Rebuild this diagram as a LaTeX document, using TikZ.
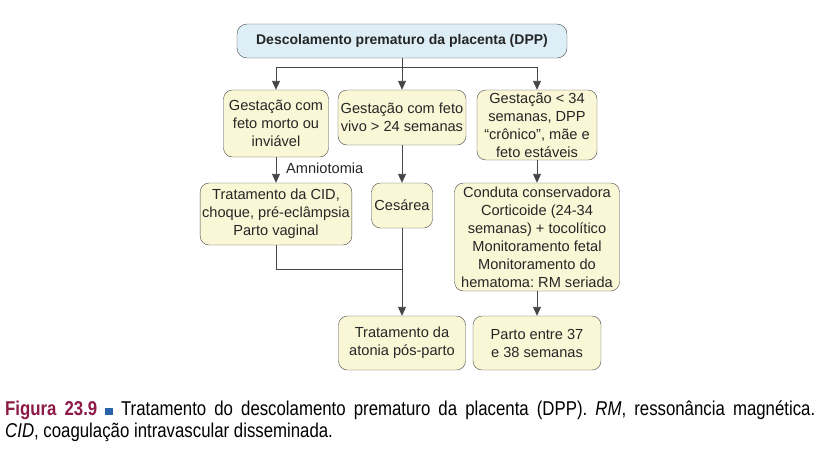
\documentclass[tikz,border=0pt]{standalone}
\usepackage{fontspec}
\setmainfont{Liberation Sans}
\newfontfamily\capfont[FakeStretch=0.84]{Liberation Sans}
\usetikzlibrary{arrows.meta}
\frenchspacing

\definecolor{boxfill}{RGB}{250,247,214}
\definecolor{topfill}{RGB}{221,238,247}
\definecolor{linegray}{RGB}{70,70,70}
\definecolor{figred}{RGB}{140,25,70}
\definecolor{figblue}{RGB}{40,100,170}

\tikzset{
  box/.style={draw=linegray, fill=boxfill, rounded corners=9pt, align=center,
    inner sep=2pt, text=black!85, font=\fontsize{14.6}{18}\selectfont},
  topbox/.style={box, fill=topfill, rounded corners=10pt,
    font=\bfseries\fontsize{14}{18}\selectfont},
  link/.style={draw=linegray, line width=0.9pt},
  arr/.style={link, -{Triangle[width=8pt,length=9pt]}},
  legend/.style={anchor=base west, inner sep=0pt,
    font=\capfont\fontsize{20}{23}\selectfont},
}

\begin{document}
\begin{tikzpicture}[x=1pt,y=-1pt]
\useasboundingbox (0,0) rectangle (819,448);

\node[topbox, minimum width=330pt, minimum height=34pt] (dpp) at (402,41) {Descolamento prematuro da placenta (DPP)};

\node[box, minimum width=105pt, minimum height=67pt] (morto) at (276,123.5) {Gestação com\\feto morto ou\\inviável};
\node[box, minimum width=128pt, minimum height=55pt] (vivo) at (402,117.5) {Gestação com feto\\vivo > 24 semanas};
\node[box, minimum width=120pt, minimum height=70pt] (cronico) at (537,125) {Gestação < 34\\semanas, DPP\\“crônico”, mãe e\\feto estáveis};

\node[box, minimum width=148pt, minimum height=62pt] (cid) at (276,214) {Tratamento da CID,\\choque, pré-eclâmpsia\\Parto vaginal};
\node[box, minimum width=61pt, minimum height=45pt] (cesarea) at (402,205.5) {Cesárea};
\node[box, minimum width=165pt, minimum height=108pt] (conduta) at (537,237) {Conduta conservadora\\Corticoide (24-34\\semanas) + tocolítico\\Monitoramento fetal\\Monitoramento do\\hematoma: RM seriada};

\node[box, minimum width=127pt, minimum height=54pt] (atonia) at (402,343) {Tratamento da\\atonia pós-parto};
\node[box, minimum width=128pt, minimum height=54pt] (parto) at (537,343) {Parto entre 37\\e 38 semanas};

\node[anchor=west, inner sep=0pt, text=black!85, font=\fontsize{14.6}{18}\selectfont] (amnio) at (286,168) {Amniotomia};

\coordinate (split) at (402,67);
\coordinate (join) at (402,269);

\draw[link] (dpp.south) -- (split);
\draw[arr] (split) -| (morto.north);
\draw[arr] (split) -- (vivo.north);
\draw[arr] (split) -| (cronico.north);

\draw[arr] (morto) -- (cid);
\draw[arr] (vivo) -- (cesarea);
\draw[arr] (cronico) -- (conduta);

\draw[link] (cid.south) |- (join);
\draw[arr] (cesarea) -- (atonia);
\draw[arr] (conduta) -- (parto);

\node[legend] (leg1) at (5,415) {\makebox[810pt][s]{\textcolor{figred}{\bfseries Figura 23.9} \textcolor{figblue}{\rule{7.5pt}{7.5pt}} Tratamento do descolamento prematuro da placenta (DPP). \textit{RM}, ressonância magnética.}};
\node[legend] (leg2) at (5,437) {\textit{CID}, coagulação intravascular disseminada.};

\end{tikzpicture}
\end{document}
